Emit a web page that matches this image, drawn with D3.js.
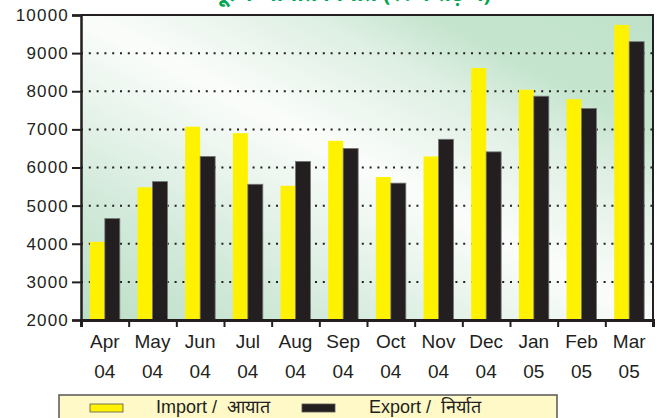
<!DOCTYPE html>
<html>
<head>
<meta charset="utf-8">
<script src="https://cdn.jsdelivr.net/npm/d3@7"></script>
<style>
  body { margin: 0; background: #fff; }
  svg { display: block; }
</style>
</head>
<body>
<svg id="chart" width="657" height="418"></svg>
<script>
// monthly import / export data
const months = ['Apr', 'May', 'Jun', 'Jul', 'Aug', 'Sep', 'Oct', 'Nov', 'Dec', 'Jan', 'Feb', 'Mar']
const years = ['04', '04', '04', '04', '04', '04', '04', '04', '04', '05', '05', '05']
const importValues = [4050, 5480, 7070, 6900, 5520, 6700, 5750, 6290, 8610, 8040, 7790, 9740]
const exportValues = [4660, 5630, 6290, 5560, 6160, 6500, 5590, 6740, 6410, 7870, 7550, 9300]
const yTicks = [2000, 3000, 4000, 5000, 6000, 7000, 8000, 9000, 10000]
const seriesNames = ['import', 'export']

const svg = d3.select('#chart')
const plotLeft = 81, plotRight = 653, plotTop = 15, plotBottom = 320

const x = d3.scaleBand().domain(d3.range(months.length)).range([plotLeft, plotRight])
const xs = d3.scaleBand().domain(seriesNames).range([0, x.bandwidth()]).paddingOuter(0.59)
const y = d3.scaleLinear().domain([2000, 10000]).range([plotBottom, plotTop])
const color = d3.scaleOrdinal().domain(seriesNames).range(['#fff200', '#231f20'])

// background gradient
const defs = svg.append('defs')
const grad = defs.append('linearGradient')
  .attr('id', 'bg')
  .attr('x1', 0).attr('y1', 1).attr('x2', 1).attr('y2', 0)
const stops = [[0, '#bcdfc6'], [0.22, '#d3eadb'], [0.5, '#fbfdfb'], [0.7, '#deefe3'], [0.8, '#c6e5cf'], [1, '#bfe1ca']]
stops.forEach(s => grad.append('stop').attr('offset', s[0]).attr('stop-color', s[1]))

svg.append('rect')
  .attr('x', plotLeft).attr('y', plotTop)
  .attr('width', plotRight - plotLeft).attr('height', plotBottom - plotTop)
  .attr('fill', 'url(#bg)')

// title (cut off at the top of the picture)
svg.append('text')
  .attr('x', 352).attr('y', 1)
  .attr('text-anchor', 'middle')
  .style('font-family', '"Noto Sans", "Liberation Sans", sans-serif')
  .style('font-size', '22px')
  .style('font-weight', 'bold')
  .style('fill', '#00a651')
  .text('मूल्य आयात निर्यात (रु. करोड़ में)')

// dotted grid lines
svg.append('g')
  .selectAll('line')
  .data(yTicks.slice(1, -1))
  .enter()
  .append('line')
  .attr('x1', plotLeft).attr('x2', plotRight)
  .attr('y1', d => y(d)).attr('y2', d => y(d))
  .attr('stroke', '#231f20')
  .attr('stroke-width', 2)
  .attr('stroke-dasharray', '2,5.8')

// bars
const group = svg.append('g')
  .selectAll('g')
  .data(months.map((m, i) => i))
  .enter()
  .append('g')
  .attr('transform', i => `translate(${x(i)},0)`)

group.selectAll('rect')
  .data(i => [{ key: 'import', value: importValues[i] }, { key: 'export', value: exportValues[i] }])
  .enter()
  .append('rect')
  .attr('x', d => xs(d.key))
  .attr('y', d => y(d.value))
  .attr('width', xs.bandwidth())
  .attr('height', d => plotBottom - y(d.value))
  .attr('fill', d => color(d.key))
  .attr('stroke', d => d.key === 'export' ? '#777' : 'none')
  .attr('stroke-width', 0.8)

// frame top and right
svg.append('path')
  .attr('d', `M${plotLeft},${plotTop}H${plotRight}V${plotBottom}`)
  .attr('fill', 'none')
  .attr('stroke', '#231f20')
  .attr('stroke-width', 2)

// y axis
const yAxis = svg.append('g')
  .attr('transform', `translate(${plotLeft},0)`)
  .call(d3.axisLeft(y).tickValues(yTicks).tickSize(9).tickPadding(3).tickFormat(d3.format('d')))
yAxis.select('.domain').attr('stroke', '#231f20').attr('stroke-width', 2.5)
yAxis.selectAll('.tick line').attr('stroke', '#231f20').attr('stroke-width', 2)
yAxis.selectAll('text')
  .style('font-family', '"Liberation Sans", Arial, sans-serif')
  .style('font-size', '17px')
  .style('letter-spacing', '1.2px')
  .attr('fill', '#231f20')

// x axis boundary ticks
const xi = d3.scaleLinear().domain([0, months.length]).range([plotLeft, plotRight])
const xAxis = svg.append('g')
  .attr('transform', `translate(0,${plotBottom})`)
  .call(d3.axisBottom(xi).ticks(months.length).tickSize(7).tickFormat(''))
xAxis.select('.domain').attr('stroke', '#231f20').attr('stroke-width', 3)
xAxis.selectAll('.tick line').attr('stroke', '#231f20').attr('stroke-width', 2)

// x labels, two lines each
const xLabels = svg.append('g')
  .attr('transform', `translate(0,${plotBottom})`)
  .call(d3.axisBottom(x).tickSize(0).tickFormat(''))
xLabels.select('.domain').remove()
const lbl = xLabels.selectAll('.tick text')
  .attr('y', 0).attr('dy', 0)
  .style('font-family', '"Liberation Sans", Arial, sans-serif')
  .style('font-size', '19px')
  .attr('fill', '#231f20')
lbl.append('tspan').attr('x', 0).attr('y', 28).text(i => months[i])
lbl.append('tspan').attr('x', 0).attr('y', 58).text(i => years[i])

// legend
const legend = svg.append('g')
legend.append('rect')
  .attr('x', 59).attr('y', 395)
  .attr('width', 498).attr('height', 40)
  .attr('fill', '#fff9c8')
  .attr('stroke', '#555')
  .attr('stroke-width', 1.5)

const legendItems = [
  { key: 'import', label: 'Import /  आयात', sx: 90, tx: 156 },
  { key: 'export', label: 'Export /  निर्यात', sx: 302, tx: 369 }
]
legendItems.forEach(it => {
  legend.append('rect')
    .attr('x', it.sx).attr('y', 404)
    .attr('width', 33).attr('height', 8)
    .attr('fill', color(it.key))
    .attr('stroke', '#555')
    .attr('stroke-width', 0.8)
  legend.append('text')
    .attr('x', it.tx).attr('y', 413)
    .style('font-family', '"Liberation Sans Narrow", "Liberation Sans", Arial, sans-serif')
    .style('font-size', '18px')
    .style('white-space', 'pre')
    .attr('fill', '#231f20')
    .text(it.label)
})
</script>
</body>
</html>
